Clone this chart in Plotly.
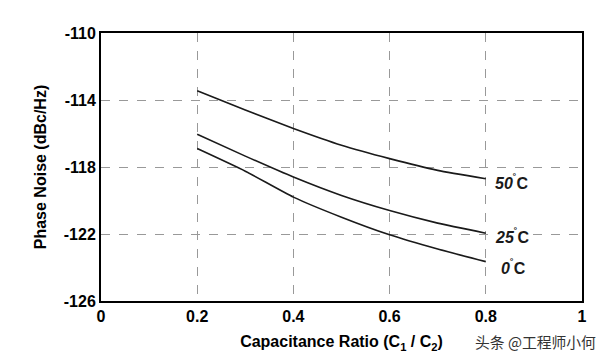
import plotly.graph_objects as go

ratio = [0.2, 0.3, 0.4, 0.5, 0.6, 0.7, 0.8]
noise_50c = [-113.45, -114.6, -115.7, -116.7, -117.5, -118.2, -118.7]
noise_25c = [-116.05, -117.35, -118.6, -119.7, -120.6, -121.35, -121.95]
noise_0c = [-116.9, -118.25, -119.8, -121.0, -122.05, -122.9, -123.65]
label_digits = ["50", "25", "0"]

x_ticks = [0, 0.2, 0.4, 0.6, 0.8, 1]
x_tick_text = ["0", "0.2", "0.4", "0.6", "0.8", "1"]
y_ticks = [-110, -114, -118, -122, -126]
y_tick_text = ["-110", "-114", "-118", "-122", "-126"]

FONT = "Liberation Sans, Arial, sans-serif"

fig = go.Figure()
for ys in [noise_50c, noise_25c, noise_0c]:
    fig.add_trace(go.Scatter(x=ratio, y=ys, mode="lines",
                             line=dict(color="#1a1a1a", width=1.6, shape="spline", smoothing=0.5),
                             showlegend=False, hoverinfo="skip"))

for ys, d in zip([noise_50c, noise_25c, noise_0c], label_digits):
    fig.add_annotation(x=ratio[-1], y=ys[-1], xref="x", yref="y",
                       text=f"<b><i>{d}</i><sup>˚</sup>C</b>", showarrow=False,
                       xanchor="left", xshift=8 if d != "0" else 14,
                       yshift=-3 if d != "0" else -5,
                       font=dict(family=FONT, size=16, color="#1a1a1a"),
                       bgcolor="white", borderpad=0)

fig.add_annotation(x=1.0, y=0, xref="paper", yref="paper", xanchor="right", yanchor="top",
                   xshift=16, yshift=-28, text="头条 @工程师小何", showarrow=False,
                   font=dict(family="Noto Sans CJK SC", size=14.8, color="#333333"))

fig.update_xaxes(range=[0, 1], tickvals=x_ticks, ticktext=[f"<b>{t}</b>" for t in x_tick_text],
                 showgrid=True, gridcolor="#999999", griddash="dash", gridwidth=1,
                 showline=True, linecolor="black", linewidth=2, mirror=True,
                 ticks="", zeroline=False, automargin=False,
                 tickfont=dict(family=FONT, size=16, color="black"),
                 title=dict(text="<b>Capacitance Ratio (C<sub>1</sub> / C<sub>2</sub>)</b>",
                            font=dict(family=FONT, size=16, color="black"), standoff=12))
fig.update_yaxes(range=[-126, -110], tickvals=y_ticks, ticktext=[f"<b>{t}</b>" for t in y_tick_text],
                 showgrid=True, gridcolor="#999999", griddash="dash", gridwidth=1,
                 showline=True, linecolor="black", linewidth=2, mirror=True,
                 ticks="", zeroline=False, automargin=False,
                 tickfont=dict(family=FONT, size=16, color="black"),
                 title=dict(text="<b>Phase Noise (dBc/Hz)</b>",
                            font=dict(family=FONT, size=16, color="black"), standoff=13))

fig.update_layout(width=601, height=348, margin=dict(l=93, r=27, t=25, b=55),
                  plot_bgcolor="white", paper_bgcolor="white")
fig.write_html("out.html")
